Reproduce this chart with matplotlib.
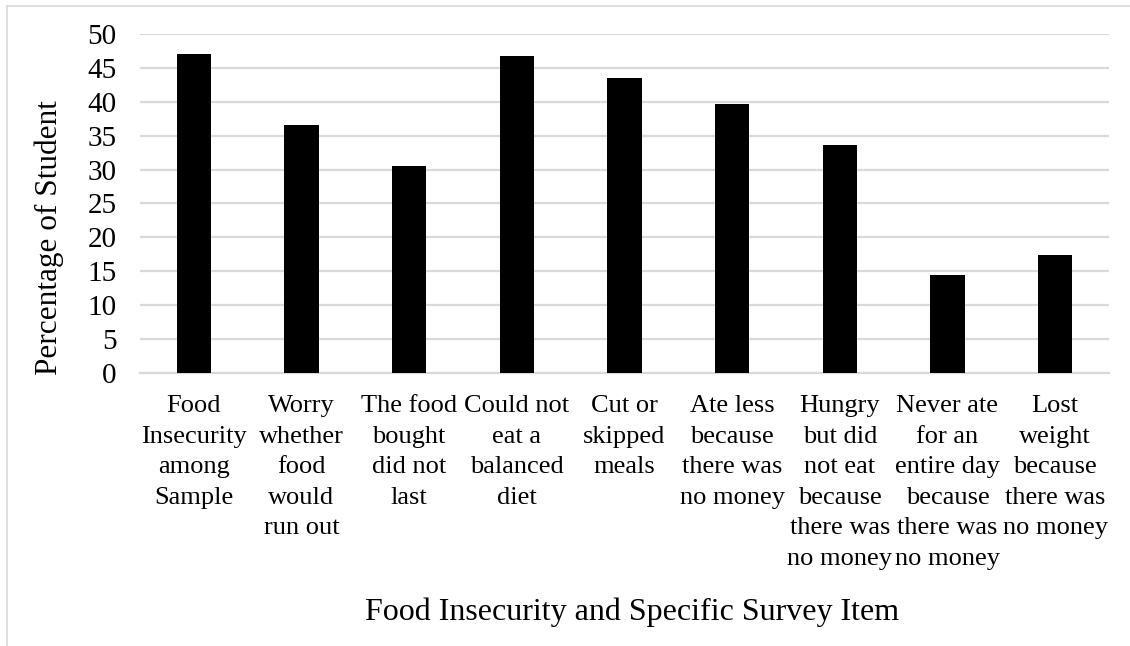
import matplotlib
matplotlib.use("Agg")
import matplotlib.pyplot as plt
from matplotlib.lines import Line2D

# ── Data ─────────────────────────────────────────────────────────────────────
categories = [
    "Food\nInsecurity\namong\nSample",
    "Worry\nwhether\nfood\nwould\nrun out",
    "The food\nbought\ndid not\nlast",
    "Could not\neat a\nbalanced\ndiet",
    "Cut or\nskipped\nmeals",
    "Ate less\nbecause\nthere was\nno money",
    "Hungry\nbut did\nnot eat\nbecause\nthere was\nno money",
    "Never ate\nfor an\nentire day\nbecause\nthere was\nno money",
    "Lost\nweight\nbecause\nthere was\nno money",
]
percent = [47.0, 36.6, 30.5, 46.7, 43.5, 39.7, 33.7, 14.5, 17.4]
yticks = list(range(0, 51, 5))

# ── Style ────────────────────────────────────────────────────────────────────
plt.rcParams.update({
    "font.family": "Liberation Serif",
    "font.size": 19,
})
GRID = "#d9d9d9"

fig = plt.figure(figsize=(11.3, 6.46), dpi=100)
ax = fig.add_axes([0.1239, 0.4226, 0.8575, 0.5248])

x = range(len(categories))
ax.bar(x, percent, width=0.32, color="black", zorder=3)

ax.set_xlim(-0.5, len(categories) - 0.5)
ax.set_ylim(0, 50)
ax.set_yticks(yticks)
ax.set_xticks(list(x))
ax.set_xticklabels(categories, linespacing=1.5, va="top", fontsize=19)
ax.tick_params(axis="y", length=0, labelsize=21, pad=17)
ax.tick_params(axis="x", length=0, pad=16)
ax.grid(axis="y", color=GRID, linewidth=1.6, zorder=0)
for s in ["top", "right", "left"]:
    ax.spines[s].set_visible(False)
ax.spines["bottom"].set_color(GRID)
ax.spines["bottom"].set_linewidth(1.6)

fig.text(0.044, 0.633, "Percentage of Student", fontsize=22.5,
         rotation=90, ha="center", va="center")
fig.text(0.559, 0.052, "Food Insecurity and Specific Survey Item",
         fontsize=23, ha="center", va="center")

# chart frame (top and left edges)
fig.add_artist(Line2D([0.006, 1.0], [0.991, 0.991], color=GRID, linewidth=1.2,
                      transform=fig.transFigure))
fig.add_artist(Line2D([0.006, 0.006], [0.0, 0.991], color=GRID, linewidth=1.2,
                      transform=fig.transFigure))

fig.savefig("out.png", dpi=100)
